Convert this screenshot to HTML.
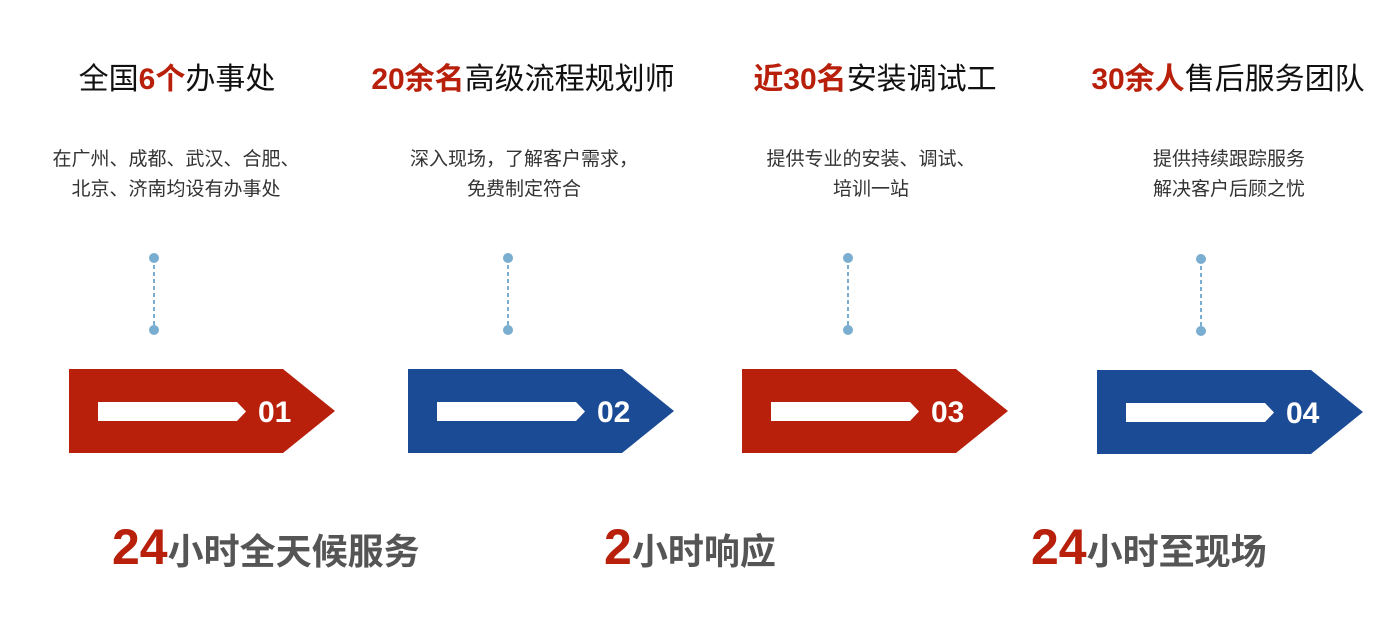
<!DOCTYPE html>
<html><head><meta charset="utf-8"><style>
body{margin:0;width:1400px;height:624px;background:#fff;position:relative;overflow:hidden;font-family:"Liberation Sans","Noto Sans CJK SC",sans-serif}
.t{position:absolute;top:54px;font-size:30px;color:#111;white-space:nowrap;text-align:center;width:400px}
.t b{color:#b8200b;font-weight:bold}
.d{position:absolute;top:145px;font-size:19px;color:#333;line-height:30px;text-align:center;width:340px;white-space:nowrap}
.b{position:absolute;top:518px;font-size:36px;font-weight:bold;color:#555;white-space:nowrap}
.b span{color:#b8200b;font-size:50px}
</style></head><body>
<div class="t" style="left:-23px">全国<b>6个</b>办事处</div>
<div class="t" style="left:323px"><b>20余名</b>高级流程规划师</div>
<div class="t" style="left:675px"><b>近30名</b>安装调试工</div>
<div class="t" style="left:1028px"><b>30余人</b>售后服务团队</div>
<div class="d" style="left:6px">在广州、成都、武汉、合肥、<br>北京、济南均设有办事处</div>
<div class="d" style="left:354px">深入现场，了解客户需求，<br>免费制定符合</div>
<div class="d" style="left:701px">提供专业的安装、调试、<br>培训一站</div>
<div class="d" style="left:1059px">提供持续跟踪服务<br>解决客户后顾之忧</div>
<svg width="1400" height="624" style="position:absolute;left:0;top:0">
<g fill="#7aaed0" stroke="#7aaed0">
<circle cx="154" cy="258" r="5" stroke="none"/><circle cx="154" cy="330" r="5" stroke="none"/><line x1="154" y1="258" x2="154" y2="330" stroke-width="2" stroke-dasharray="4,3"/>
<circle cx="508" cy="258" r="5" stroke="none"/><circle cx="508" cy="330" r="5" stroke="none"/><line x1="508" y1="258" x2="508" y2="330" stroke-width="2" stroke-dasharray="4,3"/>
<circle cx="848" cy="258" r="5" stroke="none"/><circle cx="848" cy="330" r="5" stroke="none"/><line x1="848" y1="258" x2="848" y2="330" stroke-width="2" stroke-dasharray="4,3"/>
<circle cx="1201" cy="259" r="5" stroke="none"/><circle cx="1201" cy="331" r="5" stroke="none"/><line x1="1201" y1="259" x2="1201" y2="331" stroke-width="2" stroke-dasharray="4,3"/>
</g>
<g font-family="Liberation Sans" font-weight="bold" font-size="30" fill="#fff">
<polygon points="69,369 283,369 335,411 283,453 69,453" fill="#b8200b"/>
<polygon points="98,402 237,402 246,411.5 237,421 98,421" fill="#fff"/>
<text x="258" y="422">01</text>
<polygon points="408,369 622,369 674,411 622,453 408,453" fill="#1c4b96"/>
<polygon points="437,402 576,402 585,411.5 576,421 437,421" fill="#fff"/>
<text x="597" y="422">02</text>
<polygon points="742,369 956,369 1008,411 956,453 742,453" fill="#b8200b"/>
<polygon points="771,402 910,402 919,411.5 910,421 771,421" fill="#fff"/>
<text x="931" y="422">03</text>
<polygon points="1097,370 1311,370 1363,412 1311,454 1097,454" fill="#1c4b96"/>
<polygon points="1126,403 1265,403 1274,412.5 1265,422 1126,422" fill="#fff"/>
<text x="1286" y="423">04</text>
</g>
</svg>
<div class="b" style="left:112px"><span>24</span>小时全天候服务</div>
<div class="b" style="left:604px"><span>2</span>小时响应</div>
<div class="b" style="left:1031px"><span>24</span>小时至现场</div>
</body></html>
